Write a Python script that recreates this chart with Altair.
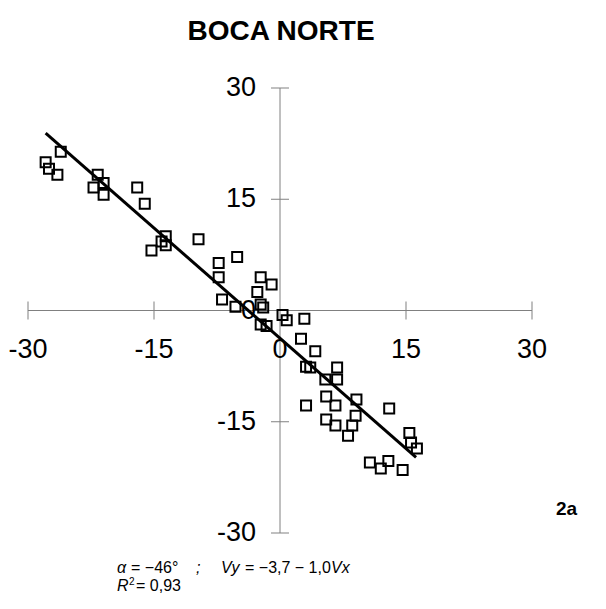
import altair as alt
import pandas as pd

vx = [-26.1, -27.9, -27.5, -26.5, -21.7, -21.0, -22.2, -21.0, -17.0, -16.1,
      -13.6, -13.6, -15.3, -14.1, -9.7, -7.3, -5.1, -7.3, -2.3, -1.0,
      -2.7, -6.9, -5.3, -2.3, -2.0, -2.3, -1.6, 0.3, 0.8, 2.9,
      2.5, 4.2, 3.1, 3.6, 6.8, 6.8, 5.4, 5.5, 6.6, 3.1,
      9.1, 9.0, 5.5, 6.6, 8.6, 8.1, 13.0, 15.4, 15.6, 16.3,
      10.7, 12.0, 12.9, 14.6]
vy = [21.4, 20.0, 19.1, 18.3, 18.3, 17.2, 16.6, 15.6, 16.6, 14.4,
      10.0, 8.8, 8.1, 9.3, 9.6, 6.4, 7.2, 4.5, 4.5, 3.5,
      2.5, 1.5, 0.5, 0.8, 0.4, -1.9, -2.1, -0.6, -1.3, -1.1,
      -3.8, -5.5, -7.6, -7.7, -7.7, -9.3, -9.3, -11.6, -12.8, -12.8,
      -12.0, -14.2, -14.7, -15.5, -15.5, -16.9, -13.2, -16.5, -17.8, -18.6,
      -20.5, -21.3, -20.3, -21.5]

# Regression line end points
line_x = [-27.9, 16.2]
line_y = [23.9, -19.8]

axis_min = -30
axis_max = 30
tick_vals = [-30, -15, 15, 30]
label_vals = [-30, -15, 0, 15, 30]
label_txt = ["-30", "-15", "0", "15", "30"]

FONT = "Liberation Sans"
AXIS_GRAY = "#808080"

xs = alt.Scale(domain=[axis_min, axis_max], nice=False, zero=False)
ys = alt.Scale(domain=[axis_min, axis_max], nice=False, zero=False)

pts = pd.DataFrame({"vx": vx, "vy": vy})
ln = pd.DataFrame({"x": line_x, "y": line_y})
ticks = pd.DataFrame({"v": tick_vals, "z": [0] * len(tick_vals)})
labels = pd.DataFrame({"v": label_vals, "t": label_txt, "z": [0] * len(label_vals)})
axes = pd.DataFrame({"a": [axis_min], "b": [axis_max], "z": [0]})

X = lambda f: alt.X(f, scale=xs, axis=None)
Y = lambda f: alt.Y(f, scale=ys, axis=None)

x_axis = alt.Chart(axes).mark_rule(color=AXIS_GRAY, strokeWidth=1).encode(
    x=X("a:Q"), x2="b:Q", y=Y("z:Q"))
y_axis = alt.Chart(axes).mark_rule(color=AXIS_GRAY, strokeWidth=1).encode(
    y=Y("a:Q"), y2="b:Q", x=X("z:Q"))

x_ticks = alt.Chart(ticks).mark_tick(orient="vertical", size=18, thickness=1,
                                     color=AXIS_GRAY, opacity=1).encode(
    x=X("v:Q"), y=Y("z:Q"))
y_ticks = alt.Chart(ticks).mark_tick(orient="horizontal", size=18, thickness=1,
                                     color=AXIS_GRAY, opacity=1).encode(
    y=Y("v:Q"), x=X("z:Q"))

x_labels = alt.Chart(labels).mark_text(font=FONT, fontSize=27, dy=39,
                                       align="center", baseline="middle",
                                       color="black").encode(
    x=X("v:Q"), y=Y("z:Q"), text="t:N")
y_labels = alt.Chart(labels).mark_text(font=FONT, fontSize=27, dx=-24,
                                       align="right", baseline="middle",
                                       color="black").encode(
    y=Y("v:Q"), x=X("z:Q"), text="t:N")

points = alt.Chart(pts).mark_point(shape="square", filled=False, size=100,
                                   strokeWidth=2, color="black", opacity=1).encode(
    x=X("vx:Q"), y=Y("vy:Q"))

reg = alt.Chart(ln).mark_line(color="black", strokeWidth=3).encode(
    x=X("x:Q"), y=Y("y:Q"))


def txt(s, x, y, size=16, style="normal", weight="normal", align="left"):
    return alt.Chart(pd.DataFrame({"t": [s]})).mark_text(
        font=FONT, fontSize=size, fontStyle=style, fontWeight=weight,
        align=align, baseline="alphabetic", color="black").encode(
        text="t:N", x=alt.value(x), y=alt.value(y))


title = txt("BOCA NORTE", 253, -48, size=28, weight="bold", align="center")
tag = txt("2a", 528, 427, size=19, weight="bold")

ann = [
    txt("\u03b1", 89, 485, style="italic"),
    txt("= \u221246\u00b0", 103, 485),
    txt(";", 168, 485, style="italic"),
    txt("Vy", 193, 485, style="italic"),
    txt("= \u22123,7 \u2212 1,0", 217, 485),
    txt("Vx", 303, 485, style="italic"),
    txt("R", 89, 503, style="italic"),
    txt("2", 101, 497, size=10),
    txt("= 0,93", 108, 503),
]

chart = alt.layer(x_axis, y_axis, x_ticks, y_ticks, x_labels, y_labels,
                  points, reg, title, tag, *ann).properties(
    width=504, height=445,
    padding={"left": 28, "top": 88, "right": 74, "bottom": 76},
    autosize=alt.AutoSizeParams(type="none"),
    background="white",
).configure_view(stroke=None)

chart.save("out.html", embed_options={"renderer": "svg", "actions": False})
